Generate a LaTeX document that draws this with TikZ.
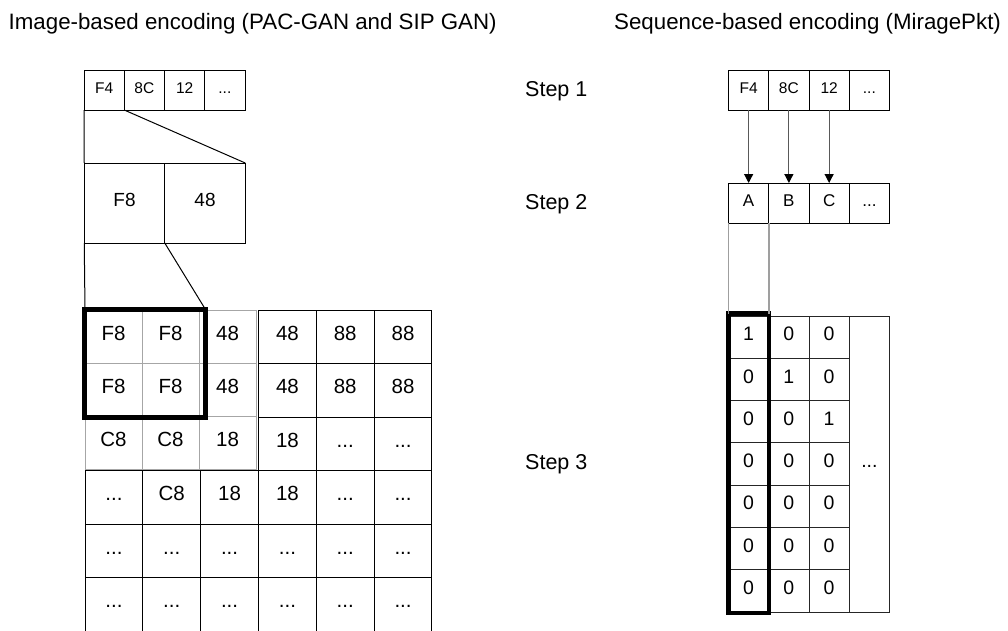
\documentclass[tikz,border=0pt]{standalone}
\usepackage{fontspec}
\setmainfont{Liberation Sans}
\usetikzlibrary{arrows.meta}
\newcommand\mdots{...}
\begin{document}
\begin{tikzpicture}[x=1pt,y=-1pt,
  box/.style={draw=black, line width=1pt, inner sep=0pt, outer sep=0pt, text height=0.72em, text depth=0pt},
  small/.style={box, minimum width=40.25pt, minimum height=40pt, font=\fontsize{15.5}{18}\selectfont},
  big/.style={box, minimum width=80.5pt, minimum height=80pt, font=\fontsize{19}{22}\selectfont},
  gcell/.style={box, minimum width=57.83pt, minimum height=53.5pt, font=\fontsize{20.5}{24}\selectfont},
  hcell/.style={gcell, draw=gray!70, fill=white, minimum width=57pt, minimum height=53pt},
  bit/.style={box, draw=black!85, minimum width=40.25pt, minimum height=42.3pt, font=\fontsize{19.5}{22}\selectfont},
  code/.style={box, minimum width=40.25pt, minimum height=40pt, font=\fontsize{17}{20}\selectfont},
  sel/.style={draw=black, line width=4.5pt, inner sep=0pt, outer sep=0pt},
  conn/.style={draw=black, line width=1pt},
  gline/.style={draw=gray!75, line width=1.5pt},
  arr/.style={draw=black!65, line width=1.2pt, -{Triangle[width=9pt,length=9pt,color=black]}},
  steplbl/.style={anchor=base west, inner sep=0pt, font=\fontsize{21.5}{24}\selectfont},
  title/.style={anchor=base west, inner sep=0pt, font=\fontsize{22.3}{26}\selectfont}]
\useasboundingbox (0,0) rectangle (1008,630);

% headings and step labels
\node[title] (ttl-img) at (8.5,29.5) {Image-based encoding (PAC-GAN and SIP GAN)};
\node[title] (ttl-seq) at (614,29.5) {Sequence-based encoding (MiragePkt)};
\node[steplbl] (step1) at (525,96) {Step 1};
\node[steplbl] (step2) at (525,209) {Step 2};
\node[steplbl] (step3) at (525,469) {Step 3};

% ---------- image-based encoding ----------
\foreach \t [count=\i from 0] in {F4,8C,12,\mdots}
  \node[small] (t\i) at ({84+40.25*(\i+0.5)},90) {\t};
\node[big] (b1) at (124.5,203) {F8};
\node[big] (b2) at (205,203) {48};

% black pixel grid, rows 0-2 beside the highlighted block
\foreach \row [count=\r from 0] in {{48,88,88},{48,88,88},{18,\mdots,\mdots}}
  \foreach \t [count=\c from 3] in \row
    \node[gcell] (g-\r-\c) at ({85+57.83*(\c+0.5)},{310+53.5*(\r+0.5)}) {\t};
% rows 3-5
\foreach \row [count=\r from 3] in {{\mdots,C8,18,18,\mdots,\mdots},
    {\mdots,\mdots,\mdots,\mdots,\mdots,\mdots},
    {\mdots,\mdots,\mdots,\mdots,\mdots,\mdots}}
  \foreach \t [count=\c from 0] in \row
    \node[gcell] (g-\r-\c) at ({85+57.83*(\c+0.5)},{310+53.5*(\r+0.5)}) {\t};
% grey 3x3 block
\foreach \row [count=\r from 0] in {{F8,F8,48},{F8,F8,48},{C8,C8,18}}
  \foreach \t [count=\c from 0] in \row
    \node[hcell] (h-\r-\c) at ({85+57*(\c+0.5)},{310+53*(\r+0.5)}) {\t};
% 2x2 selection
\node[sel, minimum width=121pt, minimum height=108pt] (sel) at (145,363.5) {};

\draw[conn] (t0.south west) -- (b1.north west);
\draw[conn] (t0.south east) -- (b2.north east);
\draw[conn] (b1.south west) -- (h-0-0.north west);
\draw[conn] (b2.south west) -- (sel.north east);

% ---------- sequence-based encoding ----------
\foreach \t [count=\i from 0] in {F4,8C,12,\mdots}
  \node[small] (r\i) at ({728.5+40.25*(\i+0.5)},90) {\t};
\foreach \t [count=\i from 0] in {A,B,C,\mdots}
  \node[code] (s\i) at ({728.5+40.25*(\i+0.5)},203) {\t};
\foreach \i in {0,1,2}
  \draw[arr] (r\i.south) -- (s\i.north);

\foreach \col [count=\c from 0] in {{1,0,0,0,0,0,0},{0,1,0,0,0,0,0},{0,0,1,0,0,0,0}}
  \foreach \t [count=\k from 0] in \col
    \node[bit] (o-\k-\c) at ({728.5+40.25*(\c+0.5)},{316+42.3*(\k+0.5)}) {\t};
\node[bit, minimum height=296.1pt] (more) at ({728.5+40.25*3.5},{316+42.3*3.5}) {\mdots};
\node[sel, minimum width=40.5pt, minimum height=299.5pt] (sel2) at (748.75,463.25) {};

\draw[gline] (s0.south west) -- (s0.south west |- sel2.north);
\draw[gline] (s0.south east) -- (s0.south east |- sel2.north);
\end{tikzpicture}
\end{document}
